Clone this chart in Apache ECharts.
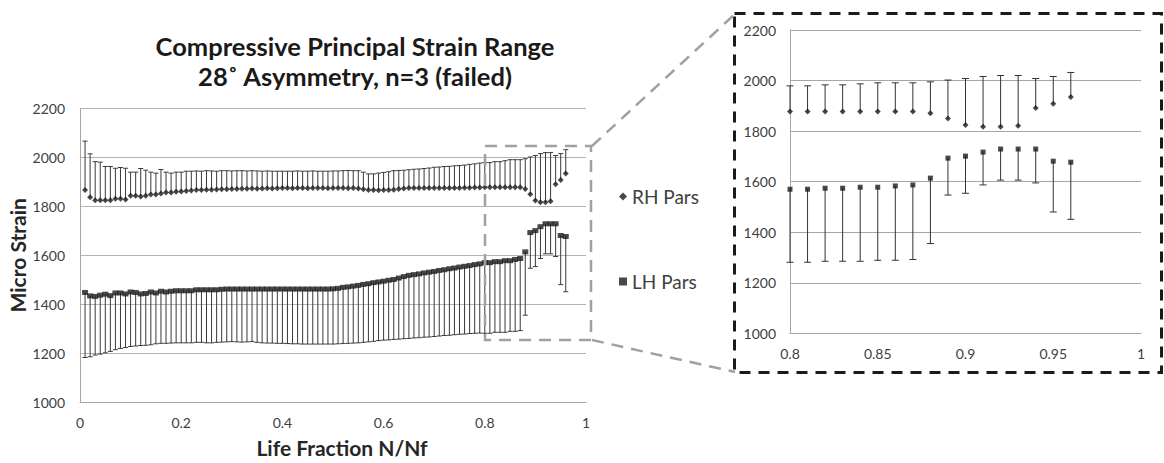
<!DOCTYPE html>
<html>
<head>
<meta charset="utf-8">
<script src="https://cdn.jsdelivr.net/npm/echarts@6/dist/echarts.min.js"></script>
<style>
html,body{margin:0;padding:0;background:#fff;}
#chart{width:1164px;height:463px;}
</style>
</head>
<body>
<div id="chart"></div>
<script>
const lifeFraction = [0.01,0.02,0.03,0.04,0.05,0.06,0.07,0.08,0.09,0.10,
0.11,0.12,0.13,0.14,0.15,0.16,0.17,0.18,0.19,0.20,
0.21,0.22,0.23,0.24,0.25,0.26,0.27,0.28,0.29,0.30,
0.31,0.32,0.33,0.34,0.35,0.36,0.37,0.38,0.39,0.40,
0.41,0.42,0.43,0.44,0.45,0.46,0.47,0.48,0.49,0.50,
0.51,0.52,0.53,0.54,0.55,0.56,0.57,0.58,0.59,0.60,
0.61,0.62,0.63,0.64,0.65,0.66,0.67,0.68,0.69,0.70,
0.71,0.72,0.73,0.74,0.75,0.76,0.77,0.78,0.79,0.80,
0.81,0.82,0.83,0.84,0.85,0.86,0.87,0.88,0.89,0.90,
0.91,0.92,0.93,0.94,0.95,0.96];

const rhPars = [1867,1837,1825,1825,1825,1825,1831,1831,1828,1844,
1844,1840,1844,1849,1849,1853,1857,1857,1860,1861,
1863,1865,1867,1867,1868,1868,1869,1870,1870,1871,
1871,1872,1872,1873,1872,1873,1874,1873,1874,1875,
1875,1874,1875,1875,1874,1875,1875,1875,1874,1875,
1875,1875,1874,1875,1873,1870,1867,1867,1866,1867,
1867,1868,1871,1873,1875,1875,1875,1875,1875,1875,
1875,1875,1875,1875,1875,1876,1876,1877,1877,1878,
1878,1878,1878,1878,1878,1878,1878,1871,1850,1824,
1817,1817,1821,1891,1908,1935];

const rhUpper = [2067,2015,1983,1981,1963,1963,1956,1959,1956,1940,
1940,1955,1948,1940,1936,1951,1940,1936,1940,1940,
1944,1944,1945,1944,1946,1945,1944,1946,1946,1945,
1946,1946,1945,1946,1945,1944,1945,1944,1944,1944,
1944,1944,1945,1944,1944,1945,1944,1944,1944,1945,
1945,1946,1947,1946,1946,1940,1933,1933,1936,1939,
1942,1946,1947,1948,1950,1952,1953,1955,1957,1960,
1961,1963,1964,1966,1967,1969,1972,1974,1977,1979,
1979,1983,1983,1987,1991,1991,1991,1995,2002,2008,
2016,2020,2020,2008,2016,2032];

const lhPars = [1448,1434,1432,1437,1441,1435,1446,1446,1442,1450,
1448,1442,1444,1450,1446,1453,1450,1453,1455,1455,
1455,1455,1459,1459,1459,1459,1459,1461,1462,1462,
1462,1462,1462,1462,1462,1462,1462,1462,1462,1462,
1462,1462,1462,1462,1462,1462,1462,1462,1462,1463,
1465,1469,1471,1474,1477,1481,1484,1488,1491,1494,
1498,1501,1507,1513,1518,1521,1524,1528,1531,1534,
1538,1541,1545,1548,1552,1555,1558,1562,1565,1570,
1570,1574,1574,1578,1578,1583,1587,1614,1693,1701,
1717,1729,1729,1729,1681,1677];

const lhLower = [1182,1185,1192,1196,1201,1207,1214,1219,1223,1227,
1229,1231,1232,1234,1238,1240,1240,1241,1242,1242,
1242,1242,1244,1244,1242,1242,1244,1245,1246,1247,
1246,1245,1246,1247,1244,1242,1241,1241,1240,1240,
1239,1238,1238,1237,1237,1237,1237,1237,1237,1237,
1238,1239,1240,1241,1242,1244,1246,1248,1251,1253,
1254,1256,1257,1259,1260,1262,1263,1265,1266,1268,
1270,1272,1273,1275,1277,1278,1280,1281,1282,1281,
1281,1285,1285,1285,1289,1289,1292,1355,1547,1554,
1587,1606,1606,1595,1480,1451];

const titleLines = ['Compressive Principal Strain Range', '28˚ Asymmetry, n=3 (failed)'];
const xAxisName = 'Life Fraction N/Nf';
const yAxisName = 'Micro Strain';
const seriesNames = ['RH Pars', 'LH Pars'];

const FONT = 'Lato, "Open Sans", sans-serif';

const rhPts = lifeFraction.map((x, i) => [x, rhPars[i]]);
const lhPts = lifeFraction.map((x, i) => [x, lhPars[i]]);
const rhErr = lifeFraction.map((x, i) => [x, rhPars[i], rhUpper[i]]);
const lhErr = lifeFraction.map((x, i) => [x, lhPars[i], lhLower[i]]);
const insetRh = rhPts.filter(d => d[0] >= 0.795);
const insetLh = lhPts.filter(d => d[0] >= 0.795);
const insetRhErr = rhErr.filter(d => d[0] >= 0.795);
const insetLhErr = lhErr.filter(d => d[0] >= 0.795);

function errRender(capHalf, color) {
  return function (params, api) {
    const p0 = api.coord([api.value(0), api.value(1)]);
    const p1 = api.coord([api.value(0), api.value(2)]);
    return {
      type: 'group',
      children: [
        { type: 'line', shape: { x1: p0[0], y1: p0[1], x2: p1[0], y2: p1[1] }, style: { stroke: color, lineWidth: 1 } },
        { type: 'line', shape: { x1: p1[0] - capHalf, y1: p1[1], x2: p1[0] + capHalf, y2: p1[1] }, style: { stroke: color, lineWidth: 1 } }
      ]
    };
  };
}

const chart = echarts.init(document.getElementById('chart'), null, { renderer: 'svg' });

const axisLabelStyle = { color: '#404040', fontSize: 14, fontFamily: FONT };
const plain = v => String(v);

chart.setOption({
  backgroundColor: '#fff',
  animation: false,
  title: {
    text: titleLines.join('\n'),
    left: 350,
    top: 26,
    textAlign: 'center',
    textStyle: { fontFamily: FONT, fontWeight: 'bold', fontSize: 25.5, lineHeight: 30, color: '#1a1a1a' }
  },
  legend: {
    orient: 'vertical',
    left: 614,
    top: 182,
    itemGap: 66,
    itemWidth: 8,
    itemHeight: 8,
    textStyle: { fontFamily: FONT, fontSize: 19, color: '#404040' },
    data: [
      { name: seriesNames[0], icon: 'diamond', itemStyle: { color: '#1a1a1a' } },
      { name: seriesNames[1], icon: 'rect', itemStyle: { color: '#1a1a1a' } }
    ]
  },
  grid: [
    { left: 80, right: 578, top: 108.6, bottom: 59.7 },
    { left: 790, right: 23, top: 30, bottom: 129.7 }
  ],
  xAxis: [
    {
      gridIndex: 0, type: 'value', min: 0, max: 1, interval: 0.2,
      name: xAxisName, nameLocation: 'middle', nameGap: 35,
      nameTextStyle: { fontFamily: FONT, fontWeight: 'bold', fontSize: 21, color: '#262626', padding: [0, 0, 0, 18] },
      axisLine: { show: true, lineStyle: { color: '#a6a6a6' } },
      axisTick: { show: false },
      splitLine: { show: false },
      axisLabel: Object.assign({ margin: 13, formatter: plain }, axisLabelStyle)
    },
    {
      gridIndex: 1, type: 'value', min: 0.8, max: 1, interval: 0.05,
      axisLine: { show: true, lineStyle: { color: '#a6a6a6' } },
      axisTick: { show: false },
      splitLine: { show: false },
      axisLabel: Object.assign({ margin: 13 }, axisLabelStyle)
    }
  ],
  yAxis: [
    {
      gridIndex: 0, type: 'value', min: 1000, max: 2200, interval: 200,
      name: yAxisName, nameLocation: 'middle', nameGap: 52,
      nameTextStyle: { fontFamily: FONT, fontWeight: 'bold', fontSize: 21, color: '#262626' },
      axisLine: { show: true, lineStyle: { color: '#a6a6a6' } },
      axisTick: { show: false },
      splitLine: { show: true, lineStyle: { color: '#b3b3b3' } },
      axisLabel: Object.assign({ margin: 15, formatter: plain }, axisLabelStyle)
    },
    {
      gridIndex: 1, type: 'value', min: 1000, max: 2200, interval: 200,
      axisLine: { show: true, lineStyle: { color: '#a6a6a6' } },
      axisTick: { show: false },
      splitLine: { show: true, lineStyle: { color: '#a6a6a6' } },
      axisLabel: Object.assign({ margin: 14, formatter: plain }, axisLabelStyle)
    }
  ],
  series: [
    { type: 'custom', xAxisIndex: 0, yAxisIndex: 0, renderItem: errRender(2.5, '#3a3a3a'), data: rhErr, z: 2, silent: true },
    { type: 'custom', xAxisIndex: 0, yAxisIndex: 0, renderItem: errRender(2.5, '#3a3a3a'), data: lhErr, z: 2, silent: true },
    { name: seriesNames[0], type: 'scatter', xAxisIndex: 0, yAxisIndex: 0, symbol: 'diamond', symbolSize: 6, itemStyle: { color: '#1a1a1a' }, data: rhPts, z: 3 },
    { name: seriesNames[1], type: 'scatter', xAxisIndex: 0, yAxisIndex: 0, symbol: 'rect', symbolSize: [6, 5], itemStyle: { color: '#1a1a1a' }, data: lhPts, z: 3 },
    { type: 'custom', xAxisIndex: 1, yAxisIndex: 1, renderItem: errRender(3.5, '#333'), data: insetRhErr, z: 2, silent: true },
    { type: 'custom', xAxisIndex: 1, yAxisIndex: 1, renderItem: errRender(3.5, '#333'), data: insetLhErr, z: 2, silent: true },
    { name: seriesNames[0], type: 'scatter', xAxisIndex: 1, yAxisIndex: 1, symbol: 'diamond', symbolSize: 6, itemStyle: { color: '#1a1a1a' }, data: insetRh, z: 3 },
    { name: seriesNames[1], type: 'scatter', xAxisIndex: 1, yAxisIndex: 1, symbol: 'rect', symbolSize: 5, itemStyle: { color: '#1a1a1a' }, data: insetLh, z: 3 }
  ],
  graphic: [
    { type: 'rect', shape: { x: 734.5, y: 13.5, width: 427, height: 359 }, style: { fill: 'none', stroke: '#1a1a1a', lineWidth: 3, lineDash: [11, 8] }, z: 10 },
    { type: 'rect', shape: { x: 485, y: 146, width: 106, height: 194 }, style: { fill: 'none', stroke: '#a0a0a0', lineWidth: 2.5, lineDash: [12, 8] }, z: 10 },
    { type: 'line', shape: { x1: 592, y1: 146, x2: 735, y2: 14 }, style: { stroke: '#a0a0a0', lineWidth: 2.5, lineDash: [12, 8] }, z: 10 },
    { type: 'line', shape: { x1: 592, y1: 340, x2: 735, y2: 372 }, style: { stroke: '#a0a0a0', lineWidth: 2.5, lineDash: [12, 8] }, z: 10 }
  ]
});
</script>
</body>
</html>
